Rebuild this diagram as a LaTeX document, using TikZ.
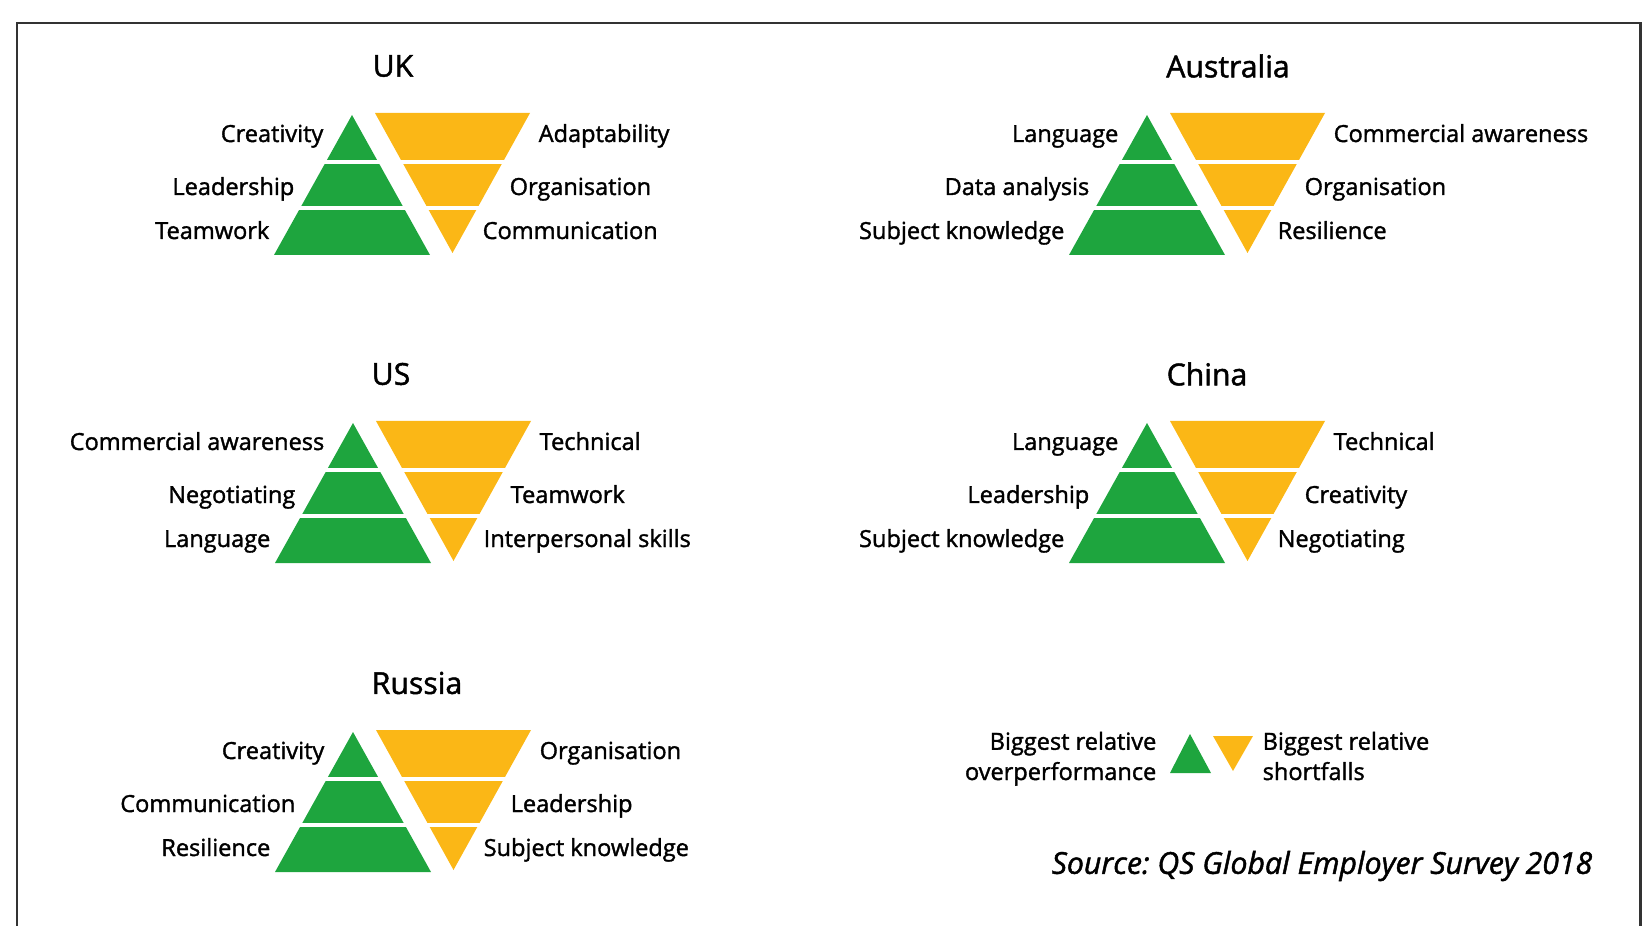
\documentclass[tikz,border=0pt]{standalone}
\usepackage{fontspec}
\setmainfont{Open Sans}[FakeBold=1.5]
\usepackage{tikz}
\usetikzlibrary{calc}
\definecolor{overgreen}{RGB}{30,165,62}
\definecolor{shortyellow}{RGB}{251,183,22}
\tikzset{
  frame/.style={draw=black!80, line width=0.85pt},
  overtri/.style={fill=overgreen},
  shorttri/.style={fill=shortyellow},
  bandgap/.style={draw=white, line width=1.4pt},
  skill/.style={font=\fontsize{6.7}{8.6}\selectfont, inner sep=0pt},
  country/.style={font=\fontsize{8.6}{10}\selectfont, inner sep=0pt},
  source/.style={font=\fontsize{8.6}{10}\selectfont\itshape, inner sep=0pt},
}

\begin{document}
\frenchspacing
\begin{tikzpicture}[x=0.1mm,y=-0.1mm]
  \useasboundingbox (0,0) rectangle (1643,926);
  \draw[frame] (17,926) -- (17,23) -- (1640,23) -- (1640,926);
  % one green pyramid and one yellow funnel per country
  \foreach \id/\px/\py/\tx/\title/\ga/\gb/\gc/\ya/\yb/\yc in {
    uk/352/115/393/UK/Creativity/Leadership/Teamwork/Adaptability/Organisation/Communication,
    au/1147/115/1228/Australia/Language/Data analysis/Subject knowledge/Commercial awareness/Organisation/Resilience,
    us/353/423/391/US/Commercial awareness/Negotiating/Language/Technical/Teamwork/Interpersonal skills,
    cn/1147/423/1207/China/Language/Leadership/Subject knowledge/Technical/Creativity/Negotiating,
    ru/353/732/417/Russia/Creativity/Communication/Resilience/Organisation/Leadership/Subject knowledge} {
    \coordinate (\id-apex) at (\px,\py);
    \node[country] (\id-title) at (\tx,\py-49) {\title};
    \fill[overtri] (\id-apex) -- ++(-78,140) -- ++(156,0) -- cycle;
    \fill[shorttri] ($(\id-apex)+(23,-2)$) -- ++(155,0) -- ++(-77.5,140) -- cycle;
    \draw[bandgap] ($(\id-apex)+(-30,47)$) -- ++(60,0);
    \draw[bandgap] ($(\id-apex)+(-56,93)$) -- ++(112,0);
    \draw[bandgap] ($(\id-apex)+(46.5,47)$) -- ++(108,0);
    \draw[bandgap] ($(\id-apex)+(71.5,93)$) -- ++(58,0);
    \node[skill, anchor=base east] (\id-g1) at ($(\id-apex)+(-28,27)$) {\ga};
    \node[skill, anchor=base east] (\id-g2) at ($(\id-apex)+(-57,80)$) {\gb};
    \node[skill, anchor=base east] (\id-g3) at ($(\id-apex)+(-82,124)$) {\gc};
    \node[skill, anchor=base west] (\id-y1) at ($(\id-apex)+(186,27)$) {\ya};
    \node[skill, anchor=base west] (\id-y2) at ($(\id-apex)+(157,80)$) {\yb};
    \node[skill, anchor=base west] (\id-y3) at ($(\id-apex)+(130,124)$) {\yc};
  }
  % key
  \fill[overtri] (1190,734) -- (1170,773) -- (1211,773) -- cycle;
  \fill[shorttri] (1213,736) -- (1253,736) -- (1233,771) -- cycle;
  \node[skill, align=right, anchor=base east] (overkey) at (1157,780) {Biggest relative\\overperformance};
  \node[skill, align=left, anchor=base west] (shortkey) at (1262,780) {Biggest relative\\shortfalls};
  \node[source, anchor=east] (source) at (1593,866) {Source: QS Global Employer Survey 2018};
\end{tikzpicture}
\end{document}
